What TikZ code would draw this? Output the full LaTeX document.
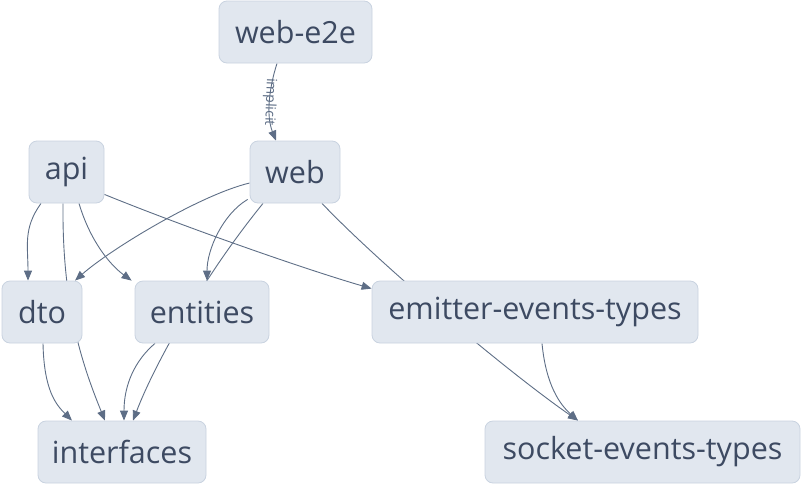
\documentclass[tikz,border=0pt]{standalone}
\usepackage{fontspec}
\setmainfont{Open Sans}
\usepackage{tikz}
\usetikzlibrary{arrows.meta,backgrounds}
\definecolor{pkgfill}{HTML}{E1E7EF}
\definecolor{pkgline}{HTML}{C9D3E0}
\definecolor{pkgtext}{HTML}{3D4A62}
\definecolor{depline}{HTML}{5E6E86}
\tikzset{
    packages/.style={
        x=1pt, y=1pt,
        pkg/.style={rectangle, rounded corners=8pt, fill=pkgfill, draw=pkgline,
            line width=0.8pt, minimum height=62pt, inner xsep=0pt,
            text=pkgtext, font=\fontsize{30.5}{34}\selectfont},
        dep/.style={draw=depline, line width=0.9pt,
            -{Triangle[length=10pt, width=8pt, fill=depline]}},
        edgelabel/.style={font=\fontsize{14}{16}\selectfont, text=depline,
            inner sep=0pt, sloped, rotate=180},
    },
}

\begin{document}
\begin{tikzpicture}[packages]
    \useasboundingbox (0,0) rectangle (802,-485);

    \node[pkg, minimum width=153pt] (webe2e)     at (295.5,-32) {web-e2e};
    \node[pkg, minimum width=90pt]  (web)        at (295,-172)  {web};
    \node[pkg, minimum width=75pt]  (api)        at (66.5,-172) {api};
    \node[pkg, minimum width=80pt]  (dto)        at (42,-312)   {dto};
    \node[pkg, minimum width=134pt] (entities)   at (202,-312)  {entities};
    \node[pkg, minimum width=326pt] (emitter)    at (535,-312)  {emitter-events-types};
    \node[pkg, minimum width=168pt] (interfaces) at (122,-452)  {interfaces};
    \node[pkg, minimum width=315pt] (socket)     at (642.5,-452) {socket-events-types};

    \begin{scope}[on background layer]
        % web-e2e
        \draw[dep] ([xshift=-18.5pt]webe2e.south) .. controls +(-8,-25) and +(-10,25) .. ([xshift=-19pt]web.north)
            node[edgelabel, pos=0.5] {implicit};
        % api
        \draw[dep] ([xshift=-25.5pt]api.south) .. controls +(-18,-25) and +(0,35) .. ([xshift=-14pt]dto.north);
        \draw[dep] ([xshift=-3.5pt]api.south) .. controls +(-1,-97) and +(-25,61) .. ([xshift=-17pt]interfaces.north);
        \draw[dep] ([xshift=12.5pt]api.south) .. controls +(11,-37) and +(-22,16) .. ([xshift=-3pt]entities.north west);
        \draw[dep] ([yshift=9pt]api.south east) .. controls +(76,-31) and +(-72,21) .. ([yshift=-8pt]emitter.north west);
        % web
        \draw[dep] ([yshift=-11pt]web.west) .. controls +(-50,-12) and +(35,31) .. ([xshift=33pt]dto.north);
        \draw[dep] ([shift={(-2pt,4pt)}]web.south west) .. controls +(-25,-15) and +(0,31) .. ([xshift=5pt]entities.north);
        \draw[dep] ([xshift=-32pt]web.south) .. controls +(-57,-70) and +(23,60) .. ([xshift=11pt]interfaces.north);
        \draw[dep] ([xshift=27pt]web.south) .. controls +(57,-60) and +(-72,50) .. ([xshift=-64.5pt]socket.north);
        % dto, entities, emitter-events-types
        \draw[dep] ([xshift=1pt]dto.south) .. controls +(1,-47) and +(-16,16) .. ([xshift=-50pt]interfaces.north);
        \draw[dep] ([xshift=-47pt]entities.south) .. controls +(-20,-17) and +(0,36) .. ([xshift=2pt]interfaces.north);
        \draw[dep] ([xshift=7pt]emitter.south) .. controls +(4,-42) and +(-18,16) .. ([xshift=-64.5pt]socket.north);
    \end{scope}
\end{tikzpicture}
\end{document}
